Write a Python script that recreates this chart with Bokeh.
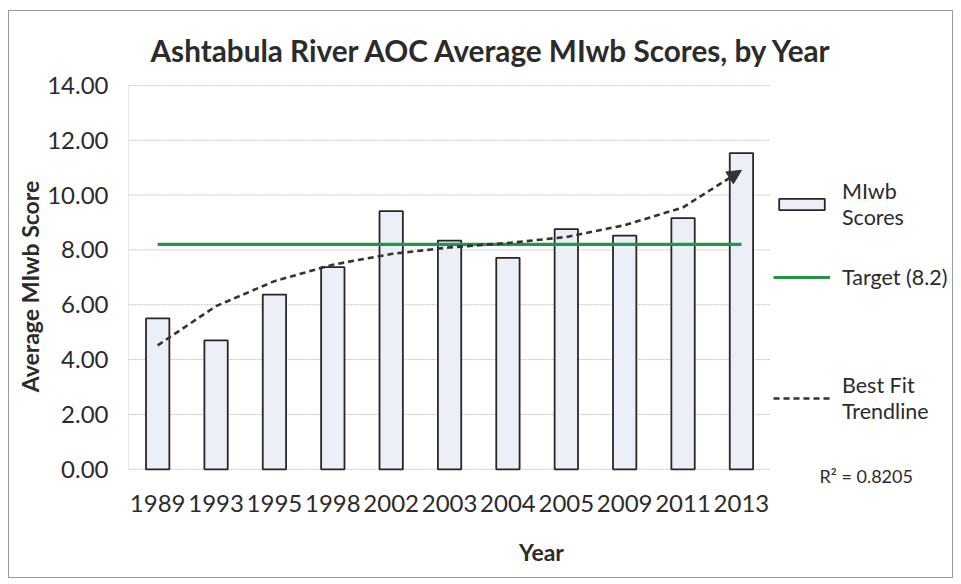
from bokeh.plotting import figure
from bokeh.models import (ColumnDataSource, FixedTicker, Legend, LegendItem, Arrow,
                          NormalHead, Range1d, NumeralTickFormatter, Label)
from bokeh.embed import file_html
from bokeh.resources import INLINE

# ---- data ----
years = ["1989", "1993", "1995", "1998", "2002", "2003", "2004", "2005", "2009", "2011", "2013"]
scores = [5.50, 4.70, 6.37, 7.37, 9.41, 8.34, 7.71, 8.76, 8.52, 9.16, 11.53]
target_value = 8.2
trend = [4.52, 5.95, 6.86, 7.46, 7.85, 8.09, 8.25, 8.47, 8.90, 9.55, 10.90]
r_squared = "0.8205"
y_ticks = [0, 2, 4, 6, 8, 10, 12, 14]

FONT = "Lato"
TXT = "#2b2b2b"
GRID = "#c4c4c4"

n = len(years)
xs = list(range(n))
src = ColumnDataSource(dict(x=xs, year=years, score=scores, trend=trend,
                            target=[target_value] * n))
x_lo, x_hi = -0.5, n - 0.5          # category area (grid extent)
y_lo, y_hi = y_ticks[0], y_ticks[-1]

# the frame is extended to the right so the legend can sit inside it
p = figure(width=945, height=568, output_backend="svg", toolbar_location=None,
           x_range=Range1d(x_lo, x_hi + 3.15), y_range=Range1d(y_lo - 0.7, y_hi + 0.03),
           min_border_left=119, min_border_right=0, min_border_top=73, min_border_bottom=91,
           title="Ashtabula River AOC Average MIwb Scores, by Year")
p.styles = {"border": "1px solid #9a9a9a", "margin-left": "8px", "margin-top": "10px"}
p.outline_line_color = None
p.background_fill_color = "white"
p.border_fill_color = "white"

p.title.text_font = FONT
p.title.text_font_size = "29.7px"
p.title.text_font_style = "bold"
p.title.text_color = TXT
p.title.align = "left"
p.title.vertical_align = "top"
p.title.offset = 22
p.title.standoff = 30

# axes
p.xaxis.ticker = FixedTicker(ticks=xs)
p.xaxis.major_label_overrides = {i: y for i, y in enumerate(years)}
p.yaxis.ticker = FixedTicker(ticks=y_ticks)
p.yaxis.formatter = NumeralTickFormatter(format="0.00")
for ax in (p.xaxis[0], p.yaxis[0]):
    ax.major_tick_line_color = None
    ax.minor_tick_line_color = None
    ax.major_tick_in = 0
    ax.major_tick_out = 0
    ax.axis_line_color = None
    ax.major_label_text_font = FONT
    ax.major_label_text_font_size = "24px"
    ax.major_label_text_color = TXT
    ax.axis_label_text_font = FONT
    ax.axis_label_text_font_size = "23px"
    ax.axis_label_text_font_style = "bold"
    ax.axis_label_text_color = TXT
p.xaxis.axis_label = "Year"
p.yaxis.axis_label = "Average MIwb Score"
p.yaxis.major_label_standoff = 20
p.xaxis.major_label_standoff = 6
p.yaxis.axis_label_standoff = 0
p.xaxis.axis_label_standoff = 23

p.xgrid.grid_line_color = None
p.ygrid.grid_line_color = None
# horizontal gridlines only across the category area, plus the left axis line
p.segment(x0=[x_lo] * len(y_ticks), x1=[x_hi] * len(y_ticks), y0=y_ticks, y1=y_ticks,
          line_color=GRID, line_width=1, line_dash="2 1")
p.segment(x0=[x_lo], x1=[x_lo], y0=[y_lo], y1=[y_hi], line_color="#d4d4d4", line_width=1)

# glyphs
bars = p.vbar(x="x", top="score", width=0.4, source=src, fill_color="#eceff7",
              line_color="#262626", line_width=1.8)
tline = p.line(x="x", y="target", source=src, line_color="#21964a", line_width=3.2)
trl = p.line(x="x", y="trend", source=src, line_color="#333333", line_width=2.6,
             line_dash="6 4")
p.add_layout(Arrow(end=NormalHead(size=14, fill_color="#333333", line_color="#333333"),
                   x_start=xs[-2], y_start=trend[-2], x_end=xs[-1], y_end=trend[-1],
                   line_alpha=0))
# invisible renderer only used to carry a spacer legend row without a glyph
blank = p.scatter(x=[xs[-1]], y=[trend[-1]], size=0, alpha=0)

legend = Legend(items=[
    LegendItem(label="MIwb\nScores", renderers=[bars]),
    LegendItem(label="Target (8.2)", renderers=[tline]),
    LegendItem(label=" ", renderers=[blank]),
    LegendItem(label="Best Fit\nTrendline", renderers=[trl]),
], location=(645, 64), orientation="vertical", border_line_color=None,
    background_fill_alpha=0, glyph_width=57, glyph_height=14, spacing=34,
    label_text_font=FONT, label_text_font_size="21.5px", label_text_color=TXT,
    padding=0, margin=0, label_standoff=12)
p.add_layout(legend, "center")

p.add_layout(Label(x=691, y=13, x_units="screen", y_units="screen",
                   text="R² = " + r_squared, text_font=FONT, text_font_size="18px",
                   text_color=TXT, text_baseline="middle"))

open("out.html", "w").write(file_html(p, INLINE))
